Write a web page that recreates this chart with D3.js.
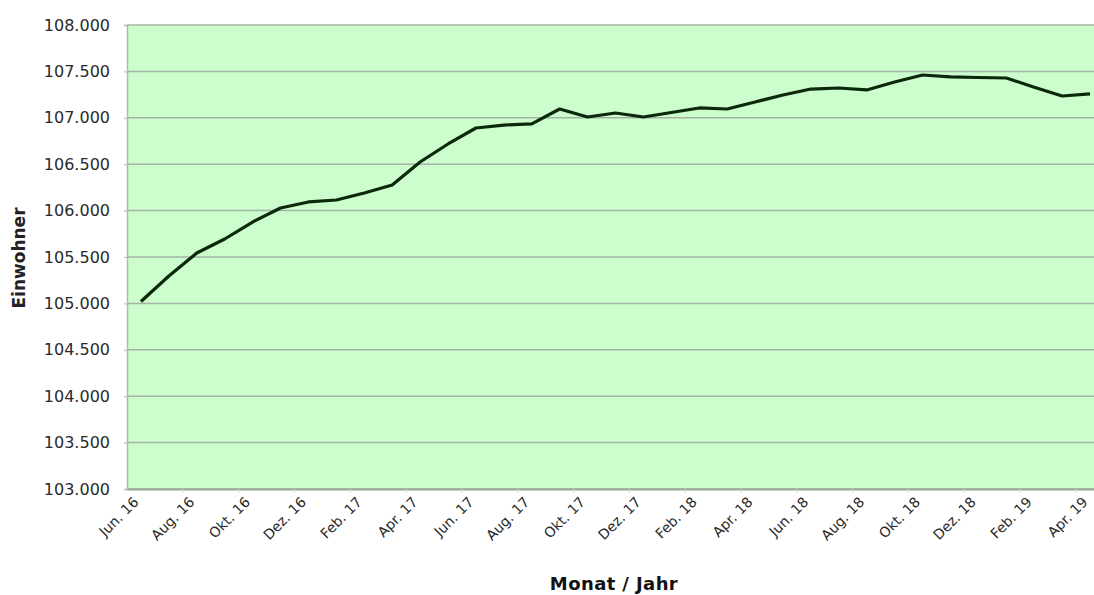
<!DOCTYPE html>
<html><head><meta charset="utf-8">
<script src="https://cdn.jsdelivr.net/npm/d3@7"></script>
<style>html,body{margin:0;padding:0;background:#fff;overflow:hidden}</style>
</head><body>
<script>
const months = ["Jun. 16","Jul. 16","Aug. 16","Sep. 16","Okt. 16","Nov. 16","Dez. 16",
"Jan. 17","Feb. 17","Mär. 17","Apr. 17","Mai. 17","Jun. 17","Jul. 17","Aug. 17","Sep. 17","Okt. 17","Nov. 17","Dez. 17",
"Jan. 18","Feb. 18","Mär. 18","Apr. 18","Mai. 18","Jun. 18","Jul. 18","Aug. 18","Sep. 18","Okt. 18","Nov. 18","Dez. 18",
"Jan. 19","Feb. 19","Mär. 19","Apr. 19"];
const einwohner = [105020,105295,105543,105694,105877,106028,106093,
106114,106190,106276,106524,106718,106890,106922,106935,107095,107009,107052,107009,
107057,107106,107095,107170,107246,107310,107321,107300,107386,107461,107440,107434,
107429,107330,107235,107257];
const yTicks = [103000,103500,104000,104500,105000,105500,106000,106500,107000,107500,108000];
const xLabels = months.filter((d,i)=>i%2===0);

const W=1094,H=595;
const mLeft=127,mRight=1104,mTop=25,mBottom=489;
const svg=d3.select("body").append("svg").attr("width",W).attr("height",H);
const x=d3.scalePoint().domain(months).range([mLeft,mRight]).padding(0.5);
const y=d3.scaleLinear().domain([103000,108000]).range([mBottom,mTop]);
const fmt=d3.formatLocale({decimal:",",thousands:".",grouping:[3],currency:["","€"]}).format(",d");
const FONT="DejaVu Sans, Verdana, sans-serif";

svg.append("rect").attr("x",mLeft).attr("y",mTop).attr("width",mRight-mLeft).attr("height",mBottom-mTop).attr("fill","#ccfdcc");

// grid
svg.append("g").selectAll("line").data(yTicks).join("line")
 .attr("x1",mLeft).attr("x2",mRight).attr("y1",d=>y(d)).attr("y2",d=>y(d))
 .attr("stroke","#a4b4a4").attr("stroke-width",1.5);

// y axis
const ya=svg.append("g").attr("transform",`translate(${mLeft},0)`)
 .call(d3.axisLeft(y).tickValues(yTicks).tickFormat(fmt).tickSize(3).tickPadding(14));
ya.select(".domain").attr("stroke","#b0b8b0").attr("stroke-width",1.5);
ya.selectAll(".tick line").attr("stroke","#b0b8b0");
ya.selectAll("text").attr("font-family",FONT).attr("font-size",16).attr("fill","#2a2a2a");

// x axis
const step=x.step();
const xa=svg.append("g").attr("transform",`translate(0,${mBottom})`)
 .call(d3.axisBottom(x).tickValues(xLabels).tickSize(0).tickPadding(0));
xa.select(".domain").attr("stroke","#9aaa9a").attr("stroke-width",2);
xa.selectAll("text").attr("font-family",FONT).attr("font-size",14).attr("fill","#2a2a2a")
 .attr("text-anchor","end").attr("x",0).attr("y",0).attr("dy",0).attr("transform","translate(-2,14) rotate(-45)");
// faint tick marks between categories
svg.append("g").selectAll("line").data(xLabels.slice(1)).join("line")
 .attr("x1",d=>x(d)-step/2).attr("x2",d=>x(d)-step/2).attr("y1",mBottom).attr("y2",mBottom+4)
 .attr("stroke","#d8d8d8");

// line
svg.append("path").datum(einwohner)
 .attr("fill","none").attr("stroke","#0c280c").attr("stroke-width",3.2).attr("stroke-linejoin","round")
 .attr("d",d3.line().x((d,i)=>x(months[i])).y(d=>y(d)));

// titles
svg.append("text").attr("transform",`translate(25,${258}) rotate(-90)`)
 .attr("text-anchor","middle").attr("font-family",FONT)
 .attr("font-size",17).attr("font-weight","bold").attr("fill","#222").text("Einwohner");
svg.append("text").attr("x",614).attr("y",590).attr("text-anchor","middle")
 .attr("font-family",FONT).attr("font-size",18).attr("font-weight","bold").attr("letter-spacing",0.4)
 .attr("fill","#111").text("Monat / Jahr");
</script>
</body></html>
